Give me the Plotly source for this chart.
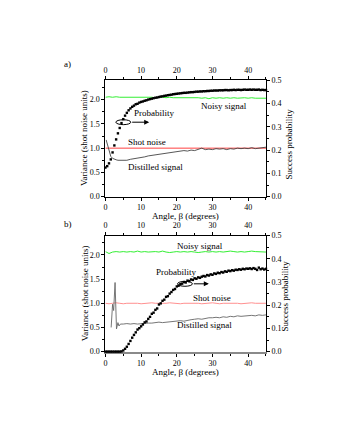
import plotly.graph_objects as go

# angle grids (degrees)
angle_half = [
    0.0, 0.5, 1.0, 1.5, 2.0, 2.5, 3.0, 3.5, 4.0, 4.5,
    5.0, 5.5, 6.0, 6.5, 7.0, 7.5, 8.0, 8.5, 9.0, 9.5,
    10.0, 10.5, 11.0, 11.5, 12.0, 12.5, 13.0, 13.5, 14.0, 14.5,
    15.0, 15.5, 16.0, 16.5, 17.0, 17.5, 18.0, 18.5, 19.0, 19.5,
    20.0, 20.5, 21.0, 21.5, 22.0, 22.5, 23.0, 23.5, 24.0, 24.5,
    25.0, 25.5, 26.0, 26.5, 27.0, 27.5, 28.0, 28.5, 29.0, 29.5,
    30.0, 30.5, 31.0, 31.5, 32.0, 32.5, 33.0, 33.5, 34.0, 34.5,
    35.0, 35.5, 36.0, 36.5, 37.0, 37.5, 38.0, 38.5, 39.0, 39.5,
    40.0, 40.5, 41.0, 41.5, 42.0, 42.5, 43.0, 43.5, 44.0, 44.5,
    45.0,
]
angle_deg = [
    0, 1, 2, 3, 4, 5, 6, 7, 8, 9,
    10, 11, 12, 13, 14, 15, 16, 17, 18, 19,
    20, 21, 22, 23, 24, 25, 26, 27, 28, 29,
    30, 31, 32, 33, 34, 35, 36, 37, 38, 39,
    40, 41, 42, 43, 44, 45,
]

# ---- panel a) ----
prob_a = [
    0.125, 0.131, 0.143, 0.160, 0.190, 0.220, 0.246, 0.272, 0.295, 0.316,
    0.333, 0.348, 0.360, 0.371, 0.379, 0.386, 0.391, 0.397, 0.399, 0.404,
    0.407, 0.409, 0.412, 0.414, 0.417, 0.419, 0.421, 0.423, 0.425, 0.426,
    0.428, 0.430, 0.431, 0.433, 0.434, 0.436, 0.437, 0.438, 0.440, 0.441,
    0.442, 0.443, 0.444, 0.445, 0.446, 0.446, 0.447, 0.448, 0.449, 0.449,
    0.450, 0.451, 0.451, 0.452, 0.452, 0.453, 0.453, 0.454, 0.454, 0.455,
    0.455, 0.456, 0.456, 0.456, 0.457, 0.457, 0.457, 0.458, 0.458, 0.457,
    0.458, 0.458, 0.459, 0.458, 0.459, 0.459, 0.458, 0.459, 0.460, 0.459,
    0.459, 0.460, 0.459, 0.460, 0.459, 0.459, 0.460, 0.458, 0.459, 0.458,
    0.458,
]
noisy_a = [
    2.05, 2.06, 2.05, 2.06, 2.05, 2.05, 2.06, 2.05, 2.05, 2.06,
    2.05, 2.06, 2.05, 2.05, 2.04, 2.05, 2.05, 2.04, 2.05, 2.04,
    2.04, 2.05, 2.04, 2.04, 2.05, 2.04, 2.04, 2.03, 2.04, 2.02,
    2.04, 2.03, 2.04, 2.03, 2.04, 2.03, 2.04, 2.03, 2.04, 2.04,
    2.03, 2.04, 2.03, 2.03, 2.02, 2.03,
]
shot_a_x = [0, 45]
shot_a = [1.0, 1.0]
distilled_a_x = [
    0.2, 0.5, 1, 1.5, 2, 2.5, 3, 3.5, 4, 5,
    6, 7, 8, 9, 10, 11, 12, 13, 14, 15,
    16, 17, 18, 19, 20, 21, 22, 23, 24, 25,
    26, 27, 28, 29, 30, 31, 32, 33, 34, 35,
    36, 37, 38, 39, 40, 41, 42, 43, 44, 45,
]
distilled_a = [
    1.17, 1.08, 0.92, 0.83, 0.79, 0.77, 0.76, 0.75, 0.75, 0.76,
    0.75, 0.77, 0.78, 0.80, 0.81, 0.82, 0.84, 0.85, 0.86, 0.88,
    0.89, 0.90, 0.91, 0.92, 0.93, 0.93, 0.95, 0.94, 0.96, 0.95,
    0.97, 1.00, 0.97, 0.98, 0.97, 0.99, 0.98, 0.99, 0.97, 0.99,
    0.98, 1.00, 0.99, 1.00, 0.99, 1.01, 0.99, 1.00, 1.01, 1.02,
]

# ---- panel b) ----
prob_b = [
    0.000, 0.000, 0.000, 0.000, 0.000, 0.000, 0.000, 0.000, 0.000, 0.001,
    0.005, 0.012, 0.021, 0.033, 0.046, 0.060, 0.072, 0.083, 0.095, 0.101,
    0.109, 0.117, 0.126, 0.130, 0.141, 0.150, 0.163, 0.168, 0.180, 0.186,
    0.203, 0.208, 0.219, 0.224, 0.236, 0.239, 0.250, 0.257, 0.266, 0.270,
    0.281, 0.284, 0.291, 0.293, 0.300, 0.298, 0.306, 0.304, 0.311, 0.309,
    0.316, 0.314, 0.320, 0.318, 0.323, 0.326, 0.324, 0.330, 0.328, 0.333,
    0.331, 0.337, 0.335, 0.340, 0.338, 0.343, 0.341, 0.346, 0.344, 0.349,
    0.347, 0.351, 0.349, 0.353, 0.352, 0.355, 0.353, 0.357, 0.355, 0.358,
    0.357, 0.359, 0.356, 0.360, 0.357, 0.352, 0.362, 0.355, 0.358, 0.354,
    0.357,
]
noisy_b = [
    2.07, 2.03, 2.06, 2.07, 2.06, 2.07, 2.06, 2.07, 2.06, 2.08,
    2.06, 2.07, 2.06, 2.07, 2.07, 2.06, 2.08, 2.06, 2.05, 2.06,
    2.07, 2.06, 2.07, 2.06, 2.07, 2.06, 2.05, 2.06, 2.07, 2.06,
    2.07, 2.06, 2.07, 2.06, 2.07, 2.08, 2.07, 2.06, 2.07, 2.06,
    2.07, 2.08, 2.07, 2.07, 2.06, 2.06,
]
shot_b = [
    1.00, 0.99, 1.00, 1.01, 1.00, 0.99, 1.00, 1.00, 1.01, 1.00,
    0.99, 1.00, 1.00, 1.01, 1.00, 1.00, 0.99, 1.00, 1.01, 1.00,
    1.00, 0.99, 1.00, 1.00, 1.01, 1.00, 1.00, 0.99, 1.00, 1.00,
    1.01, 1.00, 0.99, 1.00, 1.00, 1.01, 1.00, 1.00, 0.99, 1.00,
    1.00, 1.01, 1.00, 1.00, 0.99, 1.00,
]
distilled_b_x = [
    1.6, 2.0, 2.3, 2.7, 3.1, 3.5, 3.8, 4.2, 5, 6,
    7, 8, 9, 10, 11, 12, 13, 14, 15, 16,
    17, 18, 19, 20, 21, 22, 23, 24, 25, 26,
    27, 28, 29, 30, 31, 32, 33, 34, 35, 36,
    37, 38, 39, 40, 41, 42, 43, 44, 45,
]
distilled_b = [
    0.50, 0.98, 0.85, 1.43, 0.47, 0.60, 0.53, 0.57, 0.57, 0.58,
    0.57, 0.58, 0.57, 0.58, 0.58, 0.59, 0.59, 0.60, 0.61, 0.60,
    0.61, 0.62, 0.62, 0.63, 0.64, 0.63, 0.65, 0.66, 0.67, 0.68,
    0.67, 0.69, 0.70, 0.70, 0.71, 0.70, 0.72, 0.71, 0.73, 0.72,
    0.74, 0.73, 0.74, 0.74, 0.75, 0.74, 0.76, 0.75, 0.76,
]

W, H = 340, 440
FONT = "Liberation Serif"
X0, X1 = 96, 257.5
PANELS = {
    "a": {"top": 69.7, "bottom": 188.5},
    "b": {"top": 228.3, "bottom": 346.7},
}


def fx(x):
    return x / W


def fy(y):
    return 1 - y / H


fig = go.Figure()

# panel a traces
fig.add_trace(go.Scatter(x=angle_deg, y=noisy_a, mode="lines",
                         line=dict(color="#33ee33", width=1), xaxis="x", yaxis="y"))
fig.add_trace(go.Scatter(x=shot_a_x, y=shot_a, mode="lines",
                         line=dict(color="#ff4040", width=1), xaxis="x", yaxis="y"))
fig.add_trace(go.Scatter(x=distilled_a_x, y=distilled_a, mode="lines",
                         line=dict(color="#444444", width=0.9), xaxis="x", yaxis="y"))
fig.add_trace(go.Scatter(x=angle_half, y=prob_a, mode="markers", cliponaxis=False,
                         marker=dict(symbol="square", size=2.4, color="black"),
                         xaxis="x2", yaxis="y2"))

# panel b traces
fig.add_trace(go.Scatter(x=angle_deg, y=noisy_b, mode="lines",
                         line=dict(color="#33ee33", width=1), xaxis="x3", yaxis="y3"))
fig.add_trace(go.Scatter(x=angle_deg, y=shot_b, mode="lines",
                         line=dict(color="#ff9090", width=1), xaxis="x3", yaxis="y3"))
fig.add_trace(go.Scatter(x=distilled_b_x, y=distilled_b, mode="lines",
                         line=dict(color="#666666", width=0.9), xaxis="x3", yaxis="y3"))
fig.add_trace(go.Scatter(x=angle_half, y=prob_b, mode="markers", cliponaxis=False,
                         marker=dict(symbol="square", size=2.4, color="black"),
                         xaxis="x4", yaxis="y4"))

tickfont = dict(family=FONT, size=8, color="black")
common = dict(showline=True, linecolor="black", linewidth=1, ticks="outside",
              ticklen=3, tickwidth=1, tickcolor="black", showgrid=False,
              zeroline=False, tickfont=tickfont, fixedrange=True)
xdom = [fx(X0), fx(X1)]


def xaxis_cfg(**kw):
    d = dict(common, range=[0, 45], dtick=10, tick0=0, domain=xdom,
             minor=dict(dtick=5, ticklen=2, ticks="outside", tickcolor="black"))
    d.update(kw)
    return d


def yl_cfg(dom, **kw):
    d = dict(common, range=[0, 2.4], dtick=0.5, tick0=0, tickformat=".1f", domain=dom,
             minor=dict(dtick=0.25, ticklen=2, ticks="outside", tickcolor="black"))
    d.update(kw)
    return d


def yr_cfg(**kw):
    d = dict(common, range=[0, 0.5], dtick=0.1, tick0=0, tickformat=".1f", side="right",
             minor=dict(dtick=0.05, ticklen=2, ticks="outside", tickcolor="black"))
    d.update(kw)
    return d


dom_a = [fy(PANELS["a"]["bottom"]), fy(PANELS["a"]["top"])]
dom_b = [fy(PANELS["b"]["bottom"]), fy(PANELS["b"]["top"])]

fig.update_layout(
    width=W, height=H, autosize=False,
    margin=dict(l=0, r=0, t=0, b=0),
    paper_bgcolor="white", plot_bgcolor="white",
    showlegend=False,
    font=dict(family=FONT, size=9, color="black"),
    xaxis=xaxis_cfg(anchor="y"),
    xaxis2=xaxis_cfg(anchor="y2", overlaying="x", side="top"),
    yaxis=yl_cfg(dom_a, anchor="x"),
    yaxis2=yr_cfg(anchor="x2", overlaying="y"),
    xaxis3=xaxis_cfg(anchor="y3", linecolor="#8a8a8a", linewidth=2, layer="below traces"),
    xaxis4=xaxis_cfg(anchor="y4", overlaying="x3", side="top"),
    yaxis3=yl_cfg(dom_b, anchor="x3"),
    yaxis4=yr_cfg(anchor="x4", overlaying="y3"),
)

txt = dict(family=FONT, size=9, color="black")
labels = [
    # (text, x, y, angle)
    ("a)", 58, 53, 0),
    ("b)", 58, 216, 0),
    ("Variance (shot noise units)", 75, 129, -90),
    ("Variance (shot noise units)", 75, 287.5, -90),
    ("Success probability", 281, 135, -90),
    ("Success probability", 277, 290, -90),
    ("Angle, β (degrees)", 177, 208.5, 0),
    ("Angle, β (degrees)", 177, 368, 0),
    ("Probability", 145, 103.3, 0),
    ("Shot noise", 138, 132.7, 0),
    ("Distilled signal", 146, 158.3, 0),
    ("Noisy signal", 215.5, 95.7, 0),
    ("Noisy signal", 191, 239, 0),
    ("Probability", 167, 265.7, 0),
    ("Shot noise", 203, 291.7, 0),
    ("Distilled signal", 196, 320, 0),
]
for text, x, y, ang in labels:
    fig.add_annotation(text=text, x=fx(x), y=fy(y), xref="paper", yref="paper",
                       showarrow=False, textangle=ang, font=txt,
                       xanchor="center", yanchor="middle")

# ellipses marking the probability curve, with arrows pointing to the right axis
for cx, cy, tip in [(114, 112.5, 140), (176, 277.5, 200)]:
    fig.add_shape(type="circle", xref="paper", yref="paper",
                  x0=fx(cx - 7.5), x1=fx(cx + 7.5), y0=fy(cy + 2.5), y1=fy(cy - 2.5),
                  line=dict(color="black", width=1))
    fig.add_annotation(x=fx(tip), y=fy(cy), xref="paper", yref="paper", text="",
                       showarrow=True, ax=-(tip - cx - 7.5), ay=0,
                       arrowhead=2, arrowsize=1, arrowwidth=1, arrowcolor="black")

fig.write_html("out.html")
